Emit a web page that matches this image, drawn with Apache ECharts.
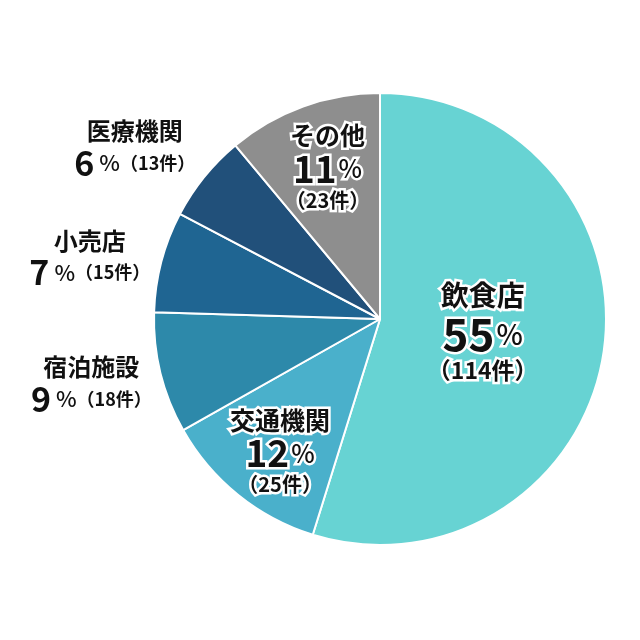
<!DOCTYPE html>
<html><head><meta charset="utf-8">
<script src="https://cdn.jsdelivr.net/npm/echarts@6/dist/echarts.min.js"></script>
<style>html,body{margin:0;padding:0;background:#fff}#c{width:640px;height:640px}</style>
</head><body><div id="c"></div>
<script>
const categories = ['飲食店','交通機関','宿泊施設','小売店','医療機関','その他'];
const counts = [114, 25, 18, 15, 13, 23];
const percents = [55, 12, 9, 7, 6, 11];
const colors = ['#67d3d3','#4ab0cb','#2d89aa','#1f6592','#21507a','#8e8e8e'];
// label style group: 'big' (inside large), 'mid' (inside), 'out' (outside)
const labelKind = ['big','mid','out','out','out','mid'];
// label offsets relative to library 'inside' position
const labelShift = [[-12,-5],[-27,42],[-176,36],[-178,-33],[-155,-99],[-13,-43]];

const font = '"Noto Sans CJK JP", "Noto Sans", sans-serif';
function st(size, lh, weight, bw, pad){
  const o = {fontSize:size,fontWeight:weight,fontFamily:font,color:'#111',lineHeight:lh,textBorderColor:'#fff',textBorderWidth:bw};
  if (pad) o.padding = [0,0,0,pad];
  return o;
}
const rich = {
  tBig:st(28,40,'bold',5), nBig:st(44,38,'bold',5), pBig:st(28,38,500,5,2), cBig:st(23,34,'bold',5),
  tMid:st(25,34,'bold',5), nMid:st(37,32,'bold',5), pMid:st(25,32,500,5,2), cMid:st(20,30,'bold',5),
  tOut:st(24,32,'bold',3), nOut:st(34,32,'bold',3), pOut:st(22,32,500,3,5), cOut:st(18,32,'bold',3)
};

function fmt(p){
  const i = p.dataIndex, k = labelKind[i];
  const name = categories[i], pc = percents[i], n = counts[i];
  if (k === 'big') return `{tBig|${name}}\n{nBig|${pc}}{pBig|%}\n{cBig|（${n}件）}`;
  if (k === 'mid') return `{tMid|${name}}\n{nMid|${pc}}{pMid|%}\n{cMid|（${n}件）}`;
  return `{tOut|${name}}\n{nOut|${pc}}{pOut|%}{cOut|（${n}件）}`;
}

const chart = echarts.init(document.getElementById('c'), null, {renderer:'canvas'});
chart.setOption({
  animation:false,
  series:[{
    type:'pie',
    center:[380,319],
    radius:[0,226],
    startAngle:90,
    clockwise:true,
    data: categories.map((c,i)=>({name:c,value:counts[i],itemStyle:{color:colors[i]}})),
    itemStyle:{borderColor:'#fff',borderWidth:2},
    label:{show:true,position:'inside',formatter:fmt,rich:rich,align:'center',verticalAlign:'middle'},
    labelLine:{show:false},
    emphasis:{disabled:true},
    labelLayout: function(p){
      const s = labelShift[p.dataIndex];
      return {dx:s[0],dy:s[1]};
    }
  }]
});
</script></body></html>
